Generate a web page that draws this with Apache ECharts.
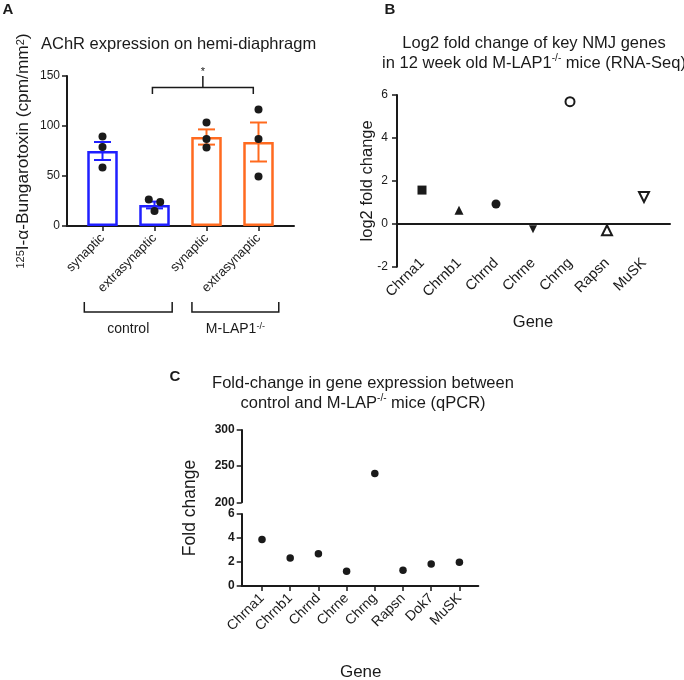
<!DOCTYPE html>
<html><head><meta charset="utf-8">
<script src="https://cdn.jsdelivr.net/npm/echarts@6/dist/echarts.min.js"></script>
<style>html,body{margin:0;padding:0;background:#fff}#c{width:684px;height:680px}</style>
</head><body><div id="c"></div>
<script>
// ---------- Panel A data ----------
const aCategories = ['synaptic', 'extrasynaptic', 'synaptic', 'extrasynaptic'];
const aMeans = [75, 21, 89, 84];
const aSem = [9, 3.4, 7.6, 19.5];
const aPoints = [[89.5, 79, 58.5], [26.5, 24, 15], [103.5, 87, 78.5], [116.5, 87, 49.5]];
const aJitter = [[0, 0, 0], [-0.11, 0.11, 0], [0, 0, 0], [0, 0, 0]];
const aGroupLabels = ['control', 'M-LAP1{sup|-/-}'];
const aGroupSpans = [[-0.35, 1.34], [1.72, 3.39]];
const aSigSpan = [0.96, 2.9];

// ---------- Panel B data ----------
const bGenes = ['Chrna1', 'Chrnb1', 'Chrnd', 'Chrne', 'Chrng', 'Rapsn', 'MuSK'];
const bLog2FC = [1.57, 0.63, 0.92, -0.26, 5.69, -0.3, 1.25];

// ---------- Panel C data ----------
const cGenes = ['Chrna1', 'Chrnb1', 'Chrnd', 'Chrne', 'Chrng', 'Rapsn', 'Dok7', 'MuSK'];
const cFold = [3.87, 2.33, 2.69, 1.22, 240, 1.31, 1.83, 1.97];

// ---------- styles ----------
const FONT = '"Liberation Sans", Arial, Helvetica, sans-serif';
const INK = '#1a1a1a';
const aColors = ['#1f1fff', '#1f1fff', '#ff6a1f', '#ff6a1f'];
const bSymbols = [
  {symbol: 'rect', size: 9, rotate: 0, open: false},
  {symbol: 'triangle', size: 9, rotate: 0, open: false},
  {symbol: 'circle', size: 9, rotate: 0, open: false},
  {symbol: 'triangle', size: 8, rotate: 180, open: false},
  {symbol: 'circle', size: 9, rotate: 0, open: true},
  {symbol: 'triangle', size: 10, rotate: 0, open: true},
  {symbol: 'triangle', size: 10, rotate: 180, open: true}
];
// annotation levels (in panel A data units)
const sigLevels = {line: 138.5, leg: 132, top: 150};
const groupLevels = {legTop: -76, line: -86, label: -103};

const lineStyle = {color: INK, width: 2};
const tickStyle = {color: INK, width: 1.5};
const supRich = (size) => ({sup: {fontSize: size, fontFamily: FONT, color: INK, verticalAlign: 'top'}});
const supRichG = (size) => ({sup: {fontSize: size, fontFamily: FONT, fill: INK, verticalAlign: 'top'}});

function visibleValueY(gridIndex, min, max, interval, labelExtra, nameExtra) {
  return Object.assign({
    type: 'value', gridIndex, min, max, interval,
    axisLine: {show: true, onZero: false, lineStyle},
    axisTick: {show: true, length: 5, lineStyle: tickStyle},
    axisLabel: Object.assign({fontSize: 12, color: INK, fontFamily: FONT, margin: 7}, labelExtra || {}),
    splitLine: {show: false},
    nameMoveOverlap: false
  }, nameExtra || {});
}
function lineOnlyX(gridIndex, onZero) {
  return {type: 'value', gridIndex, min: 0, max: 1,
    axisLine: {show: true, onZero: !!onZero, lineStyle},
    axisTick: {show: false}, axisLabel: {show: false}, splitLine: {show: false}};
}
function hidden(type, gridIndex, extra) {
  return Object.assign({type, gridIndex, show: false, splitLine: {show: false}}, extra || {});
}

const gridBase = {containLabel: false, outerBoundsMode: 'none'};
const grids = [
  {left: 67, top: 76, width: 227, height: 150},       // 0 A outer
  {left: 76.5, top: 76, width: 208, height: 150},     // 1 A inner
  {left: 397, top: 95, width: 273, height: 171.7},    // 2 B outer
  {left: 403.5, top: 95, width: 259, height: 171.7},  // 3 B inner
  {left: 241.7, top: 514, width: 236.6, height: 72},  // 4 C lower outer
  {left: 247.9, top: 514, width: 225.6, height: 72},  // 5 C lower inner
  {left: 241.7, top: 430, width: 236.6, height: 72.3},// 6 C upper outer
  {left: 247.9, top: 430, width: 225.6, height: 72.3},// 7 C upper inner
  {left: 241.7, top: 430, width: 236.6, height: 156}  // 8 C name holder
].map(g => Object.assign({}, gridBase, g));

const xAxes = [
  lineOnlyX(0, false),                                                   // 0
  {type: 'category', gridIndex: 1, data: aCategories,                      // 1
    axisLine: {show: false, onZero: false},
    axisTick: {show: true, alignWithLabel: true, length: 5, lineStyle: tickStyle},
    axisLabel: {rotate: 45, fontSize: 13, color: INK, fontFamily: FONT, margin: 10, interval: 0}},
  hidden('value', 1, {min: -0.5, max: 3.5}),                               // 2
  lineOnlyX(2, true),                                                     // 3
  {type: 'category', gridIndex: 3, data: bGenes,                           // 4
    axisLine: {show: false, onZero: false}, axisTick: {show: false},
    axisLabel: {rotate: 45, fontSize: 14.5, color: INK, fontFamily: FONT, margin: -6, interval: 0},
    name: 'Gene', nameLocation: 'middle', nameGap: 47, nameMoveOverlap: false,
    nameTextStyle: {fontSize: 16.5, color: INK, fontFamily: FONT}},
  lineOnlyX(4, false),                                                    // 5
  {type: 'category', gridIndex: 5, data: cGenes,                           // 6
    axisLine: {show: false, onZero: false},
    axisTick: {show: true, alignWithLabel: true, length: 5, lineStyle: tickStyle},
    axisLabel: {rotate: 45, fontSize: 14, color: INK, fontFamily: FONT, margin: 10, interval: 0},
    name: 'Gene', nameLocation: 'middle', nameGap: 78, nameMoveOverlap: false,
    nameTextStyle: {fontSize: 17, color: INK, fontFamily: FONT}},
  hidden('category', 7, {data: cGenes}),                                   // 7
  hidden('value', 6, {min: 0, max: 1}),                                    // 8
  hidden('value', 8, {min: 0, max: 1})                                     // 9
];

const yAxes = [
  visibleValueY(0, 0, 150, 50, {margin: 7}, {                             // 0
    name: '{sup|125}I-α-Bungarotoxin (cpm/mm{sup|2})', nameLocation: 'middle', nameGap: 35,
    nameTextStyle: {fontSize: 17.3, color: INK, fontFamily: FONT, rich: supRich(11)}}),
  hidden('value', 1, {min: 0, max: 150}),                                  // 1
  visibleValueY(2, -2, 6, 2, {margin: 9}, {                               // 2
    name: 'log2 fold change', nameLocation: 'middle', nameGap: 21,
    nameTextStyle: {fontSize: 16.5, color: INK, fontFamily: FONT}}),
  hidden('value', 3, {min: -2, max: 6}),                                   // 3
  visibleValueY(4, 0, 6, 2, {fontWeight: 'bold', margin: 7}),              // 4
  hidden('value', 5, {min: 0, max: 6}),                                    // 5
  visibleValueY(6, 200, 300, 50, {fontWeight: 'bold', margin: 7}),         // 6
  hidden('value', 7, {min: 200, max: 300}),                                // 7
  {type: 'value', gridIndex: 8, min: 0, max: 1,                            // 8
    axisLine: {show: false}, axisTick: {show: false}, axisLabel: {show: false}, splitLine: {show: false},
    name: 'Fold change', nameLocation: 'middle', nameGap: 43, nameMoveOverlap: false,
    nameTextStyle: {fontSize: 17.5, color: INK, fontFamily: FONT}}
];

const aPointData = [];
aPoints.forEach((pts, i) => pts.forEach((v, j) => aPointData.push([i + aJitter[i][j], v])));

const series = [
  {type: 'bar', xAxisIndex: 1, yAxisIndex: 1, barWidth: 30.5, z: 2,
    data: aMeans.map((v, i) => ({value: v, itemStyle: {borderColor: aColors[i]}})),
    itemStyle: {color: '#fff', borderWidth: 2.5}},
  {type: 'custom', xAxisIndex: 2, yAxisIndex: 1, z: 3, clip: false,
    data: aMeans.map((m, i) => [i, m, aSem[i]]),
    renderItem: (p, api) => {
      const x = api.value(0), m = api.value(1), s = api.value(2);
      const t = api.coord([x, m + s]), b = api.coord([x, m - s]);
      const h = 8.5, st = {stroke: aColors[p.dataIndex], lineWidth: 2};
      return {type: 'group', children: [
        {type: 'line', shape: {x1: t[0], y1: t[1], x2: b[0], y2: b[1]}, style: st},
        {type: 'line', shape: {x1: t[0] - h, y1: t[1], x2: t[0] + h, y2: t[1]}, style: st},
        {type: 'line', shape: {x1: b[0] - h, y1: b[1], x2: b[0] + h, y2: b[1]}, style: st}
      ]};
    }},
  {type: 'scatter', xAxisIndex: 2, yAxisIndex: 1, z: 4, symbolSize: 8,
    data: aPointData, itemStyle: {color: INK, opacity: 1}},
  {type: 'custom', xAxisIndex: 2, yAxisIndex: 1, z: 4, clip: false,
    data: [[aSigSpan[0], aSigSpan[1]]],
    renderItem: (p, api) => {
      const x1 = api.value(0), x2 = api.value(1), mid = (x1 + x2) / 2;
      const L = api.coord([x1, sigLevels.leg]), LH = api.coord([x1, sigLevels.line]);
      const RH = api.coord([x2, sigLevels.line]), R = api.coord([x2, sigLevels.leg]);
      const M = api.coord([mid, sigLevels.line]), T = api.coord([mid, sigLevels.top]);
      const st = {stroke: INK, lineWidth: 1.5, fill: null};
      return {type: 'group', children: [
        {type: 'polyline', shape: {points: [L, LH, RH, R]}, style: st},
        {type: 'line', shape: {x1: M[0], y1: M[1], x2: T[0], y2: T[1]}, style: st},
        {type: 'text', x: T[0], y: T[1] - 10, style: {text: '*', fontSize: 11, fontFamily: FONT, fill: INK, align: 'center', verticalAlign: 'top'}}
      ]};
    }},
  {type: 'custom', xAxisIndex: 2, yAxisIndex: 1, z: 4, clip: false,
    data: aGroupSpans.map((s, i) => [s[0], s[1], i]),
    renderItem: (p, api) => {
      const x1 = api.value(0), x2 = api.value(1), i = api.value(2);
      const A1 = api.coord([x1, groupLevels.legTop]), B1 = api.coord([x1, groupLevels.line]);
      const B2 = api.coord([x2, groupLevels.line]), A2 = api.coord([x2, groupLevels.legTop]);
      const lab = api.coord([(x1 + x2) / 2, groupLevels.label]);
      return {type: 'group', children: [
        {type: 'polyline', shape: {points: [A1, B1, B2, A2]}, style: {stroke: INK, lineWidth: 1.5, fill: null}},
        {type: 'text', x: lab[0], y: lab[1], style: {text: aGroupLabels[i], fontSize: 14, fontFamily: FONT, fill: INK,
          align: 'center', verticalAlign: 'middle', rich: supRichG(9)}}
      ]};
    }},
  {type: 'scatter', xAxisIndex: 4, yAxisIndex: 3, z: 4,
    data: bLog2FC.map((v, i) => {
      const s = bSymbols[i];
      return {value: v, symbol: s.symbol, symbolSize: s.size, symbolRotate: s.rotate,
        itemStyle: s.open ? {color: '#fff', borderColor: INK, borderWidth: 2, opacity: 1} : {color: INK, opacity: 1}};
    })},
  {type: 'scatter', xAxisIndex: 6, yAxisIndex: 5, z: 4, symbolSize: 7.5,
    data: cFold.map(v => v <= 6 ? v : '-'), itemStyle: {color: INK, opacity: 1}},
  {type: 'scatter', xAxisIndex: 7, yAxisIndex: 7, z: 4, symbolSize: 7.5,
    data: cFold.map(v => v >= 200 ? v : '-'), itemStyle: {color: INK, opacity: 1}}
];

const txt = (x, y, text, extra) => ({type: 'text', x, y, style: Object.assign({
  text, fontSize: 16.5, fontFamily: FONT, fill: INK, align: 'center', verticalAlign: 'middle'}, extra || {})});

const graphic = [
  txt(8, 10, 'A', {fontSize: 15, fontWeight: 'bold'}),
  txt(41, 44, 'AChR expression on hemi-diaphragm', {align: 'left'}),
  txt(390, 10, 'B', {fontSize: 15, fontWeight: 'bold'}),
  txt(534, 53, 'Log2 fold change of key NMJ genes\nin 12 week old M-LAP1{sup|-/-} mice (RNA-Seq)', {lineHeight: 20, rich: supRichG(10)}),
  txt(175, 377, 'C', {fontSize: 15, fontWeight: 'bold'}),
  txt(363, 393, 'Fold-change in gene expression between\ncontrol and M-LAP{sup|-/-} mice (qPCR)', {lineHeight: 20, rich: supRichG(10)})
];

const chart = echarts.init(document.getElementById('c'), null, {renderer: 'canvas', width: 684, height: 680});
chart.setOption({
  animation: false,
  backgroundColor: '#fff',
  textStyle: {fontFamily: FONT},
  tooltip: {show: false},
  grid: grids,
  xAxis: xAxes,
  yAxis: yAxes,
  series,
  graphic
});
</script></body></html>
